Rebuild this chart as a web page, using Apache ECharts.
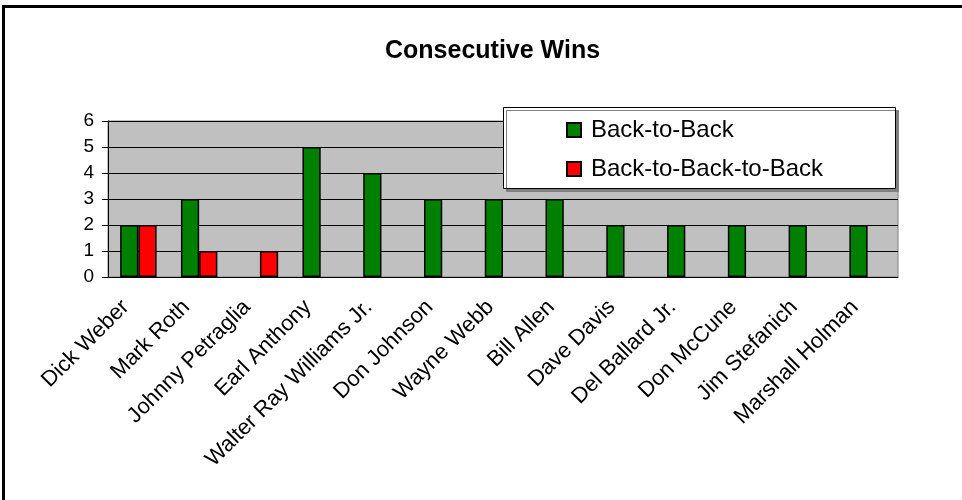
<!DOCTYPE html>
<html>
<head>
<meta charset="utf-8">
<script src="https://cdn.jsdelivr.net/npm/echarts@6/dist/echarts.min.js"></script>
<style>
html,body{margin:0;padding:0;background:#fff;}
#frame{position:absolute;left:2px;top:5px;width:970px;height:500px;border-left:3px solid #000;border-top:3px solid #000;}
#chart{position:absolute;left:0;top:0;width:962px;height:500px;}
</style>
</head>
<body>
<div id="frame"></div>
<div id="chart"></div>
<script>
const categories = ["Dick Weber","Mark Roth","Johnny Petraglia","Earl Anthony","Walter Ray Williams Jr.","Don Johnson","Wayne Webb","Bill Allen","Dave Davis","Del Ballard Jr.","Don McCune","Jim Stefanich","Marshall Holman"];
const backToBack = [2,3,null,5,4,3,3,3,2,2,2,2,2];
const backToBackToBack = [2,1,1,null,null,null,null,null,null,null,null,null,null];
const yTicks = [0,1,2,3,4,5,6];
const FONT = "'Liberation Sans', Arial, sans-serif";

const chart = echarts.init(document.getElementById('chart'));
chart.setOption({
  animation: false,
  backgroundColor: 'transparent',
  title: {
    text: 'Consecutive Wins',
    left: 380, top: 34,
    textStyle: {fontFamily: FONT, fontSize: 25, fontWeight: 'bold', color: '#000'}
  },
  graphic: [{
    type: 'rect', z: 10,
    shape: {x: 503.5, y: 107.5, width: 392, height: 81},
    style: {fill: '#fff', stroke: '#000', lineWidth: 1, shadowColor: '#808080', shadowOffsetX: 3, shadowOffsetY: 3, shadowBlur: 0}
  }],
  legend: {
    orient: 'vertical', left: 566, top: 118, z: 20, padding: 0,
    icon: 'rect', itemWidth: 14, itemHeight: 14, itemGap: 15,
    textStyle: {fontFamily: FONT, fontSize: 24, color: '#000', padding: [0,0,0,5]},
    data: ['Back-to-Back', 'Back-to-Back-to-Back']
  },
  grid: {left: 108, right: 64, top: 121, bottom: 223, show: true, backgroundColor: '#C0C0C0', borderColor: '#808080', borderWidth: 1},
  xAxis: {
    type: 'category', data: categories,
    axisLine: {lineStyle: {color: '#000', width: 1}},
    axisTick: {length: 5, lineStyle: {color: '#000'}},
    axisLabel: {rotate: 45, margin: 14, padding: [0, 18, 0, 0], fontFamily: FONT, fontSize: 22, color: '#000', interval: 0}
  },
  yAxis: {
    type: 'value', min: 0, max: 6, interval: 1,
    axisLine: {show: true, lineStyle: {color: '#000', width: 1}},
    axisTick: {show: true, length: 6, lineStyle: {color: '#000'}},
    splitLine: {lineStyle: {color: '#000', width: 1}},
    axisLabel: {margin: 14, fontFamily: FONT, fontSize: 19, color: '#000', formatter: v => yTicks.includes(v) ? String(v) : ''}
  },
  series: [
    {name: 'Back-to-Back', type: 'bar', data: backToBack, barGap: '0%', barCategoryGap: '40%',
     itemStyle: {color: '#008000', borderColor: '#000', borderWidth: 1.5}},
    {name: 'Back-to-Back-to-Back', type: 'bar', data: backToBackToBack, barGap: '0%', barCategoryGap: '40%',
     itemStyle: {color: '#FF0000', borderColor: '#000', borderWidth: 1.5}}
  ]
});
</script>
</body>
</html>
